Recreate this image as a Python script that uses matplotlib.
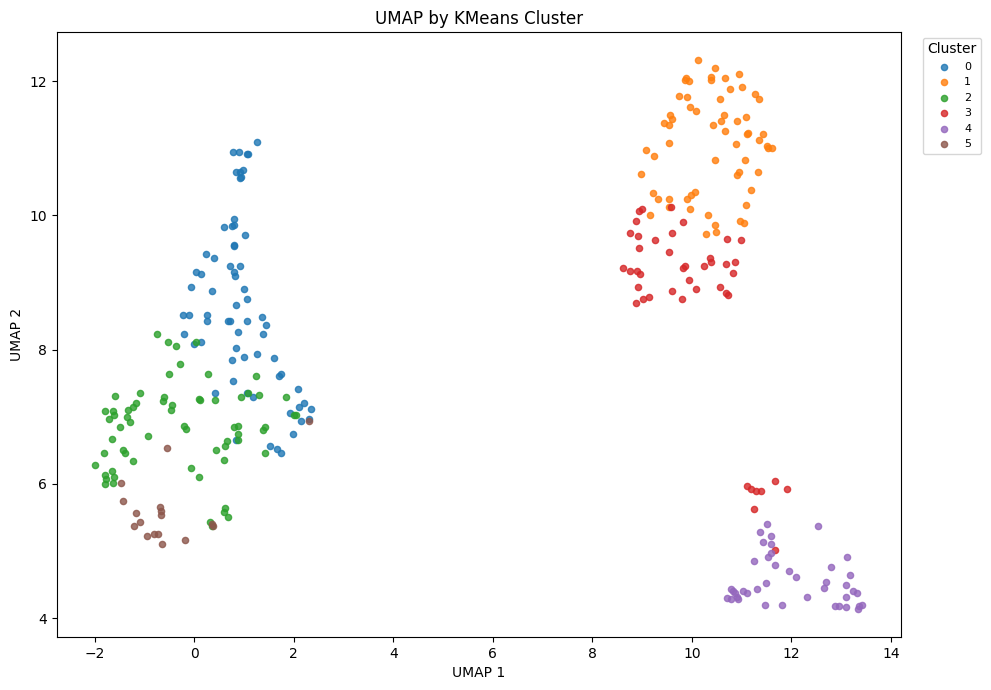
import matplotlib
matplotlib.use("Agg")
import matplotlib.pyplot as plt

# UMAP coordinates, one pair of lists per cluster
c0_x = [1.26, 0.77, 0.90, 1.06, 1.08, 0.84, 0.92, 0.98, 0.92, 0.94, 0.80, 0.79, 0.75, 0.59,
        1.02, 0.79, 0.80, 0.23, 0.39, 0.72, 0.92, 0.03, 0.14, 0.79, 0.82, -0.07, 0.36, 1.00,
        1.06, 0.84, -0.23, -0.11, 0.25, 0.25, 0.68, 0.72, 1.06, 1.36, 1.44, 1.38, 0.88, -0.21,
        0.14, 0.00, 0.84, 1.26, 1.00, 0.76, 1.60, 1.70, 1.75, 0.78, 2.09, 0.42, 1.06, 1.18,
        2.21, 2.11, 2.35, 1.93, 2.31, 2.15, 1.99, 0.84, 1.52, 1.67, 1.75]
c0_y = [11.09, 10.94, 10.94, 10.92, 10.91, 10.65, 10.65, 10.67, 10.55, 10.57, 9.94, 9.86, 9.84,
        9.82, 9.70, 9.56, 9.55, 9.42, 9.37, 9.25, 9.25, 9.15, 9.13, 9.15, 9.10, 8.93, 8.87, 8.90,
        8.76, 8.66, 8.51, 8.51, 8.51, 8.43, 8.43, 8.43, 8.42, 8.49, 8.36, 8.23, 8.26, 8.24, 8.12,
        8.09, 8.03, 7.93, 7.89, 7.84, 7.87, 7.61, 7.63, 7.54, 7.42, 7.35, 7.36, 7.30, 7.21, 7.15,
        7.12, 7.05, 6.96, 6.93, 6.75, 6.66, 6.57, 6.52, 6.46]

c1_x = [10.13, 10.47, 9.89, 9.87, 9.95, 10.39, 10.39, 10.67, 10.95, 10.77, 11.01, 11.27, 11.35,
        9.74, 9.90, 10.57, 9.96, 10.08, 9.56, 9.44, 9.60, 9.54, 10.65, 10.59, 10.43, 10.91, 11.09,
        10.67, 11.11, 11.13, 11.43, 11.35, 9.54, 10.89, 11.51, 11.53, 11.61, 9.08, 9.24, 10.47,
        11.07, 8.98, 10.91, 10.95, 11.33, 11.19, 9.22, 9.32, 9.54, 9.90, 9.98, 10.06, 11.09, 9.54,
        9.96, 9.16, 10.33, 10.47, 10.49, 10.29, 10.97, 11.05]
c1_y = [12.31, 12.20, 12.04, 12.01, 12.00, 12.06, 12.01, 12.04, 12.11, 11.88, 11.91, 11.80, 11.73,
        11.77, 11.76, 11.73, 11.61, 11.56, 11.50, 11.38, 11.43, 11.34, 11.49, 11.40, 11.35, 11.40,
        11.47, 11.25, 11.21, 11.22, 11.21, 11.12, 11.07, 11.06, 11.03, 11.00, 11.01, 10.98, 10.88,
        10.82, 10.82, 10.61, 10.60, 10.64, 10.65, 10.37, 10.33, 10.25, 10.25, 10.25, 10.30, 10.34,
        10.16, 10.12, 10.10, 10.00, 10.01, 9.85, 9.75, 9.72, 9.91, 9.88]

c2_x = [-0.75, -0.52, -0.37, 0.04, -0.28, -0.51, 0.28, 1.24, -1.09, -1.59, -0.61, -0.63, -0.45,
        -0.47, 0.09, 0.11, 0.41, 0.94, 1.08, 1.30, 1.85, -1.17, -1.23, -1.33, -1.79, -1.63, -1.61,
        -1.71, -1.35, -1.29, -1.49, -0.93, -1.65, -0.21, -0.17, 2.01, 2.05, 0.80, 0.88, 0.88, 0.88,
        1.42, 1.38, 0.66, 0.62, 0.44, 1.42, -1.81, -1.43, -1.39, -1.23, -1.99, -1.79, -1.65, -1.61,
        -1.77, -1.79, -1.63, -0.07, 0.09, 0.60, 0.62, 0.60, 0.68, 0.32, 0.36]
c2_y = [8.23, 8.11, 8.05, 8.12, 7.78, 7.63, 7.63, 7.61, 7.36, 7.31, 7.30, 7.23, 7.18, 7.10, 7.27,
        7.25, 7.25, 7.30, 7.35, 7.33, 7.30, 7.20, 7.14, 7.10, 7.08, 7.08, 7.02, 6.96, 6.99, 6.92,
        6.85, 6.71, 6.67, 6.86, 6.82, 7.02, 7.02, 6.85, 6.86, 6.74, 6.65, 6.85, 6.80, 6.64, 6.57,
        6.51, 6.46, 6.46, 6.50, 6.46, 6.34, 6.28, 6.13, 6.19, 6.11, 6.08, 6.00, 6.01, 6.23, 6.10,
        6.35, 5.64, 5.58, 5.50, 5.44, 5.37]

c3_x = [9.00, 8.94, 9.58, 8.88, 9.82, 8.76, 8.92, 9.60, 9.26, 10.71, 10.99, 8.94, 9.54, 10.37,
        10.39, 10.87, 10.69, 10.25, 9.87, 9.82, 8.62, 8.76, 8.90, 8.96, 10.83, 9.95, 10.09, 10.57,
        8.92, 9.60, 10.69, 10.73, 9.14, 9.02, 9.80, 8.88, 11.67, 11.11, 11.19, 11.29, 11.39, 11.92,
        11.25, 11.67]
c3_y = [10.10, 10.06, 10.12, 9.92, 9.90, 9.73, 9.69, 9.73, 9.63, 9.64, 9.63, 9.51, 9.46, 9.37,
        9.30, 9.30, 9.27, 9.24, 9.24, 9.21, 9.21, 9.17, 9.17, 9.12, 9.14, 9.03, 8.91, 8.94, 8.93,
        8.87, 8.84, 8.82, 8.78, 8.75, 8.75, 8.69, 6.05, 5.97, 5.93, 5.90, 5.90, 5.92, 5.63, 5.02]

c4_x = [11.51, 12.54, 11.37, 11.59, 11.43, 11.59, 11.59, 11.53, 11.25, 11.67, 13.12, 12.80, 11.96,
        12.10, 13.18, 12.70, 12.66, 13.10, 11.49, 11.31, 11.03, 11.11, 13.24, 13.32, 13.10, 12.32,
        11.82, 11.47, 12.88, 12.96, 13.10, 13.36, 13.34, 13.42, 10.78, 10.82, 10.86, 10.70, 10.78,
        10.90, 10.92]
c4_y = [5.40, 5.38, 5.29, 5.23, 5.13, 5.10, 4.97, 4.91, 4.85, 4.79, 4.91, 4.77, 4.70, 4.62, 4.64,
        4.54, 4.45, 4.49, 4.52, 4.43, 4.41, 4.37, 4.41, 4.37, 4.32, 4.31, 4.20, 4.19, 4.18, 4.18,
        4.16, 4.18, 4.13, 4.19, 4.43, 4.40, 4.38, 4.30, 4.29, 4.32, 4.28]

c5_x = [-0.55, -1.47, -1.43, -1.17, -1.09, -1.21, -0.69, -0.67, -0.67, -0.95, -0.81, -0.73, -0.65,
        -0.19, 0.36, 0.38, 2.31]
c5_y = [6.53, 6.01, 5.74, 5.56, 5.44, 5.38, 5.65, 5.59, 5.53, 5.23, 5.26, 5.25, 5.10, 5.17, 5.41,
        5.38, 6.93]

clusters = ["0", "1", "2", "3", "4", "5"]
xs = [c0_x, c1_x, c2_x, c3_x, c4_x, c5_x]
ys = [c0_y, c1_y, c2_y, c3_y, c4_y, c5_y]

fig, ax = plt.subplots(figsize=(9.91, 6.9), dpi=100)

for name, x, y in zip(clusters, xs, ys):
    ax.scatter(x, y, s=20, alpha=0.8, label=name)

ax.set_xlim(-2.76, 14.2)
ax.set_ylim(3.72, 12.73)
ax.set_title("UMAP by KMeans Cluster")
ax.set_xlabel("UMAP 1")
ax.set_ylabel("UMAP 2")
ax.legend(title="Cluster", fontsize=8, bbox_to_anchor=(1.02, 1), loc="upper left")

fig.subplots_adjust(left=0.0575, right=0.909, top=0.9536, bottom=0.0768)
fig.savefig("out.png", dpi=100)
